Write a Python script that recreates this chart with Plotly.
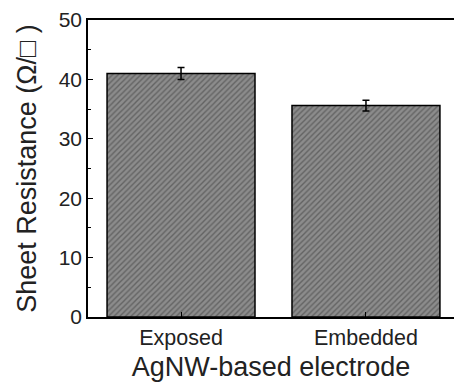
import plotly.graph_objects as go

categories = ["Exposed", "Embedded"]
values = [41.0, 35.6]
errors = [1.0, 0.9]
y_ticks = [0, 10, 20, 30, 40, 50]

fig = go.Figure()
fig.add_trace(go.Bar(
    x=categories, y=values, width=0.8,
    marker=dict(
        color="#8c8c8c",
        line=dict(color="black", width=1.5),
        pattern=dict(shape="/", bgcolor="#8c8c8c", fgcolor="#3a3a3a", size=4, solidity=0.35),
    ),
    error_y=dict(type="data", array=errors, visible=True, color="black", thickness=1.5, width=3.5),
))

font = "Liberation Sans, Arial, sans-serif"
fig.update_layout(
    width=454, height=385,
    margin=dict(l=88, r=0, t=20, b=68),
    plot_bgcolor="white", paper_bgcolor="white",
    showlegend=False,
    font=dict(family=font, color="#222"),
    xaxis=dict(
        range=[-0.503, 1.476],
        showline=True, linecolor="black", linewidth=1.5, mirror=True,
        ticks="inside", ticklen=5, tickwidth=1.2, tickcolor="black",
        tickfont=dict(size=21.5, family=font, color="#222"),
        title=dict(text="AgNW-based electrode", font=dict(size=27, family=font, color="#222"), standoff=9),
        showgrid=False, zeroline=False, automargin=False,
    ),
    yaxis=dict(
        range=[0, 50],
        tickvals=y_ticks,
        showline=True, linecolor="black", linewidth=1.5, mirror=False,
        ticks="inside", ticklen=5, tickwidth=1.2, tickcolor="black",
        minor=dict(dtick=5, ticks="inside", ticklen=3, tickcolor="black", tickwidth=1.2),
        tickfont=dict(size=21, family=font, color="#222"),
        title=dict(text="Sheet Resistance (Ω/□ )", font=dict(size=27, family=font, color="#222"), standoff=14),
        showgrid=False, zeroline=False, automargin=False,
    ),
)

fig.write_html("out.html")
